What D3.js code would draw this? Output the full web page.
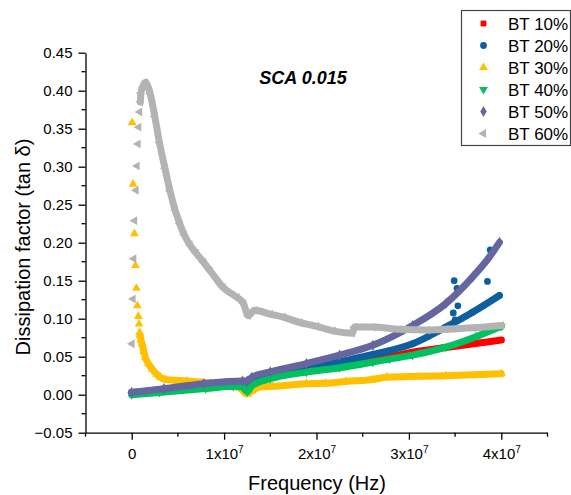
<!DOCTYPE html>
<meta charset="utf-8">
<style>
body { margin: 0; background: #fff; }
svg text { font-family: "Liberation Sans", Arial, sans-serif; fill: #000; }
.axis path, .axis line { stroke: #000; stroke-width: 1.3px; fill: none; }
.trace { fill: none; stroke-width: 7px; stroke-linejoin: round; stroke-linecap: round; }
</style>
<body>
<svg id="chart"></svg>
<script src="https://d3js.org/d3.v7.min.js"></script>
<script>

var width = 571,
    height = 495;

// series names / colours
var seriesNames = ["BT 10%", "BT 20%", "BT 30%", "BT 40%", "BT 50%", "BT 60%"];
var seriesColors = ["#ff0000", "#0d5f9e", "#ffc000", "#00c060", "#6565a0", "#b3b3b3"];

// tick values
var xTickValues = [0, 1e7, 2e7, 3e7, 4e7];
var xTickLabels = ["0", "1x10|7", "2x10|7", "3x10|7", "4x10|7"];
var yTickValues = [-0.05, 0, 0.05, 0.1, 0.15, 0.2, 0.25, 0.3, 0.35, 0.4, 0.45];

// [frequency (Hz), tan delta]
var bt10Trace = [[0, 0.002], [0.3e7, 0.004], [0.6e7, 0.007], [1.0e7, 0.011], [1.24e7, 0.013], [1.3e7, 0.018],
  [1.5e7, 0.024], [1.9e7, 0.031], [2.25e7, 0.0385], [2.61e7, 0.046], [2.76e7, 0.049], [3.04e7, 0.056],
  [3.4e7, 0.062], [3.7e7, 0.067], [4.0e7, 0.072]];

var bt20Trace = [[0, 0.003], [0.3e7, 0.006], [0.6e7, 0.009], [1.0e7, 0.013], [1.24e7, 0.015], [1.3e7, 0.021],
  [1.5e7, 0.027], [1.89e7, 0.0355], [2.25e7, 0.043], [2.61e7, 0.053], [2.79e7, 0.058], [3.04e7, 0.067],
  [3.4e7, 0.089], [3.69e7, 0.1085], [3.98e7, 0.1305]];
var bt20Outliers = [[3.49e7, 0.150], [3.52e7, 0.140], [3.53e7, 0.117], [3.48e7, 0.1075], [3.50e7, 0.0985],
  [3.85e7, 0.149], [3.88e7, 0.1905]];

var bt30Sparse = [[0.005e7, 0.358], [0.015e7, 0.277], [0.029e7, 0.212], [0.04e7, 0.170], [0.051e7, 0.140],
  [0.062e7, 0.117], [0.072e7, 0.103], [0.08e7, 0.093], [0.086e7, 0.082]];
var bt30Trace = [[0.09e7, 0.078], [0.1e7, 0.072], [0.112e7, 0.067], [0.13e7, 0.057], [0.148e7, 0.049],
  [0.18e7, 0.041], [0.22e7, 0.034], [0.27e7, 0.027], [0.31e7, 0.023], [0.364e7, 0.020], [0.6e7, 0.018],
  [0.85e7, 0.0153], [1.1e7, 0.013], [1.17e7, 0.009], [1.25e7, 0.001], [1.3e7, 0.005], [1.39e7, 0.010],
  [1.53e7, 0.011], [1.89e7, 0.0145], [2.1e7, 0.015], [2.32e7, 0.0175], [2.61e7, 0.020], [2.76e7, 0.023],
  [3.4e7, 0.025], [4.0e7, 0.0275]];

var bt40Trace = [[0, 0.000], [0.3e7, 0.003], [0.8e7, 0.008], [1.1e7, 0.011], [1.2e7, 0.010], [1.25e7, 0.004],
  [1.3e7, 0.012], [1.5e7, 0.021], [1.89e7, 0.0297], [2.25e7, 0.0355], [2.61e7, 0.043], [2.79e7, 0.047],
  [3.04e7, 0.052], [3.4e7, 0.0625], [3.76e7, 0.078], [4.0e7, 0.090]];

var bt50Trace = [[0, 0.003], [0.35e7, 0.008], [0.78e7, 0.0145], [1.2e7, 0.018], [1.25e7, 0.018], [1.3e7, 0.023],
  [1.5e7, 0.030], [1.89e7, 0.041], [2.25e7, 0.052], [2.61e7, 0.065], [3.04e7, 0.091], [3.4e7, 0.120],
  [3.69e7, 0.155], [3.87e7, 0.181], [3.98e7, 0.2005]];

var bt60Sparse = [[0.004e7, 0.067], [0.015e7, 0.126], [0.022e7, 0.179], [0.032e7, 0.229], [0.047e7, 0.269],
  [0.058e7, 0.301], [0.069e7, 0.330], [0.076e7, 0.352], [0.086e7, 0.372]];
var bt60Trace = [[0.094e7, 0.385], [0.1e7, 0.397], [0.12e7, 0.405], [0.148e7, 0.411], [0.2e7, 0.396],
  [0.25e7, 0.366], [0.3e7, 0.332], [0.36e7, 0.298], [0.415e7, 0.268], [0.47e7, 0.243], [0.52e7, 0.225],
  [0.57e7, 0.210], [0.63e7, 0.197], [0.70e7, 0.186], [0.78e7, 0.174], [0.85e7, 0.163], [0.99e7, 0.141],
  [1.14e7, 0.128], [1.21e7, 0.12], [1.26e7, 0.104], [1.33e7, 0.111], [1.5e7, 0.106], [1.64e7, 0.102],
  [1.82e7, 0.095], [2.0e7, 0.09], [2.18e7, 0.084], [2.39e7, 0.081], [2.41e7, 0.089], [2.61e7, 0.089],
  [2.9e7, 0.086], [3.2e7, 0.085], [3.4e7, 0.086], [3.7e7, 0.088], [4.0e7, 0.091]];

var series = [
  { trace: bt10Trace, sparse: [] },
  { trace: bt20Trace, sparse: bt20Outliers },
  { trace: bt30Trace, sparse: bt30Sparse },
  { trace: bt40Trace, sparse: [] },
  { trace: bt50Trace, sparse: [] },
  { trace: bt60Trace, sparse: bt60Sparse }
];

// marker shape per series: symbol + rotation
var markers = [
  { type: d3.symbolSquare, rot: 0, size: 34 },
  { type: d3.symbolCircle, rot: 0, size: 36 },
  { type: d3.symbolTriangle, rot: 0, size: 34 },
  { type: d3.symbolTriangle, rot: 180, size: 34 },
  { type: d3.symbolDiamond, rot: 0, size: 36 },
  { type: d3.symbolTriangle, rot: -90, size: 34 }
];

var margin = { left: 85.5, top: 52.7, right: 23.5, bottom: 62.3 };

var x = d3.scaleLinear()
    .domain([-0.5e7, 4.5e7])
    .range([margin.left, width - margin.right]);

var y = d3.scaleLinear()
    .domain([-0.05, 0.45])
    .range([height - margin.bottom, margin.top]);

var svg = d3.select("#chart")
    .attr("width", width)
    .attr("height", height);

var line = d3.line()
    .curve(d3.curveMonotoneX)
    .x(function(d) { return x(d[0]); })
    .y(function(d) { return y(d[1]); });

var plot = svg.append("g");

series.forEach(function(s, i) {
  var m = markers[i];
  var sym = d3.symbol().type(m.type).size(m.size);
  var g = plot.append("g").attr("fill", seriesColors[i]);

  g.append("path")
      .datum(s.trace)
      .attr("class", "trace")
      .attr("stroke", seriesColors[i])
      .attr("d", line);

  g.selectAll(".pt")
      .data(s.trace.concat(s.sparse))
    .enter().append("path")
      .attr("class", "pt")
      .attr("d", sym)
      .attr("transform", function(d) {
        return "translate(" + x(d[0]) + "," + y(d[1]) + ")rotate(" + m.rot + ")";
      });
});

// axes
var xAxis = svg.append("g")
    .attr("class", "axis")
    .attr("transform", "translate(0," + y(-0.05) + ")")
    .call(d3.axisBottom(x).tickValues(xTickValues).tickSize(7).tickSizeOuter(0).tickFormat(""));

xAxis.selectAll(".minor")
    .data(d3.range(-0.5e7, 4.51e7, 1e7))
  .enter().append("line")
    .attr("class", "minor")
    .attr("x1", function(d) { return x(d); })
    .attr("x2", function(d) { return x(d); })
    .attr("y1", 0).attr("y2", 4);

xAxis.selectAll(".tick").append("text")
    .attr("y", 26.5)
    .attr("text-anchor", "middle")
    .attr("font-size", "15px")
    .each(function(d, i) {
      var parts = xTickLabels[i].split("|");
      var t = d3.select(this);
      t.append("tspan").text(parts[0]);
      if (parts[1]) t.append("tspan").attr("dy", -6).attr("font-size", "10px").text(parts[1]);
    });

var yAxis = svg.append("g")
    .attr("class", "axis")
    .attr("transform", "translate(" + x(-0.5e7) + ",0)")
    .call(d3.axisLeft(y).tickValues(yTickValues).tickSize(7).tickSizeOuter(0).tickFormat(d3.format(".2f")));

yAxis.selectAll(".tick text")
    .attr("x", -13)
    .attr("font-size", "15px")
    .attr("font-family", "Liberation Sans, Arial, sans-serif");

yAxis.selectAll(".minor")
    .data(yTickValues.slice(0, -1))
  .enter().append("line")
    .attr("class", "minor")
    .attr("y1", function(d) { return y(d + 0.025); })
    .attr("y2", function(d) { return y(d + 0.025); })
    .attr("x1", 0).attr("x2", -4);

// titles
svg.append("text")
    .attr("x", 303)
    .attr("y", 84)
    .attr("text-anchor", "middle")
    .attr("font-size", "18px")
    .attr("font-weight", "bold")
    .attr("font-style", "italic")
    .text("SCA 0.015");

svg.append("text")
    .attr("transform", "translate(29.5,247)rotate(-90)")
    .attr("text-anchor", "middle")
    .attr("font-size", "20px")
    .text("Dissipation factor (tan δ)");

svg.append("text")
    .attr("x", 317)
    .attr("y", 489.5)
    .attr("text-anchor", "middle")
    .attr("font-size", "20px")
    .text("Frequency (Hz)");

// legend
var legend = svg.append("g");

legend.append("rect")
    .attr("x", 461.5)
    .attr("y", 10.5)
    .attr("width", 109)
    .attr("height", 135)
    .attr("fill", "#fff")
    .attr("stroke", "#444")
    .attr("stroke-width", 1.2);

seriesNames.forEach(function(name, i) {
  var m = markers[i];
  var yy = 23.5 + i * 22;
  legend.append("path")
      .attr("d", d3.symbol().type(m.type).size(m.size)())
      .attr("fill", seriesColors[i])
      .attr("transform", "translate(483.5," + yy + ")rotate(" + m.rot + ")");
  legend.append("text")
      .attr("x", 508)
      .attr("y", yy + 6)
      .attr("font-size", "17px")
      .text(name);
});

</script>
